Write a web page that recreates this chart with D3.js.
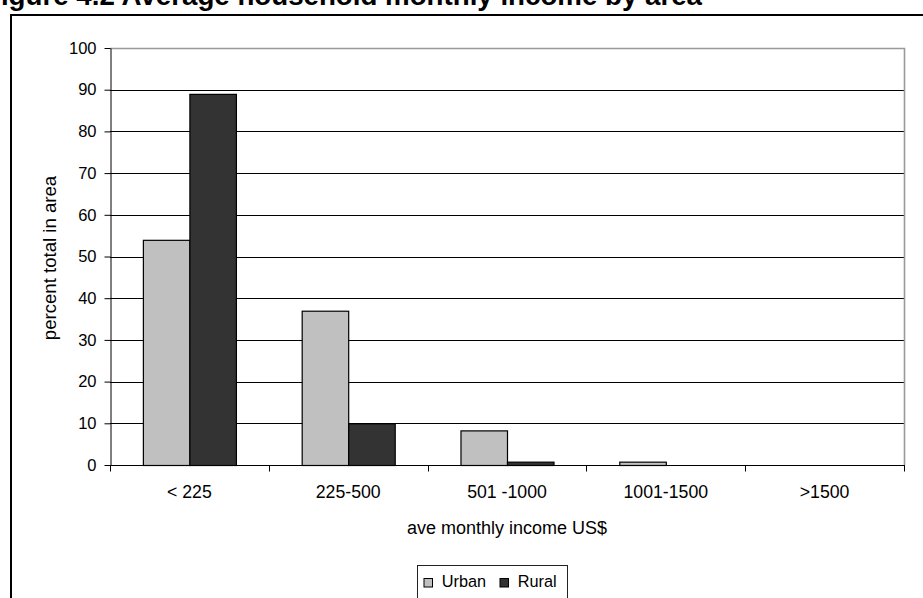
<!DOCTYPE html>
<html>
<head>
<meta charset="utf-8">
<script src="https://cdn.jsdelivr.net/npm/d3@7"></script>
<style>
  html, body { margin: 0; padding: 0; background: #fff; overflow: hidden; }
  svg { display: block; font-family: "Liberation Sans", Arial, sans-serif; }
</style>
</head>
<body>
<svg id="chart" width="923" height="598"></svg>
<script>
// Income bands and the share of households in each, by area
const categories = ["< 225", "225-500", "501 -1000", "1001-1500", ">1500"];
const seriesNames = ["Urban", "Rural"];
const urbanValues = [54, 37, 8.3, 0.8, 0];
const ruralValues = [89, 10, 0.8, 0, 0];
const yTicks = [0, 10, 20, 30, 40, 50, 60, 70, 80, 90, 100];
const colors = { Urban: "#c0c0c0", Rural: "#333333" };

const rows = categories.map((c, i) => ({ cat: c, Urban: urbanValues[i], Rural: ruralValues[i] }));

const svg = d3.select("#chart");
const W = 923, H = 598;
const FONT = "'Liberation Sans', Arial, sans-serif";

// Title, running off the top of the page
svg.append("text")
  .attr("x", -16).attr("y", 5)
  .attr("font-size", 27.7).attr("font-weight", "bold")
  .attr("fill", "#000")
  .text("Figure 4.2 Average household monthly income by area");

// Outer chart frame
svg.append("rect")
  .attr("x", 11).attr("y", 15)
  .attr("width", W + 20).attr("height", H)
  .attr("fill", "none").attr("stroke", "#000").attr("stroke-width", 2);

const plot = { left: 110, right: 904, top: 48, bottom: 465 };

const x = d3.scaleBand().domain(categories).range([plot.left, plot.right]);
const xInner = d3.scaleBand().domain(seriesNames).range([0, x.bandwidth()]).paddingInner(0).paddingOuter(0.707);
const y = d3.scaleLinear().domain([0, 100]).range([plot.bottom, plot.top]);

// Gridlines
svg.append("g").selectAll("line").data(yTicks.filter(t => t > 0 && t < 100)).join("line")
  .attr("x1", plot.left).attr("x2", plot.right)
  .attr("y1", d => Math.round(y(d)) + 0.5).attr("y2", d => Math.round(y(d)) + 0.5)
  .attr("stroke", "#000").attr("stroke-width", 1);

// Plot area border (top and right)
svg.append("path")
  .attr("d", `M${plot.left},${plot.top + 0.5}H${plot.right + 0.5}V${plot.bottom}`)
  .attr("fill", "none").attr("stroke", "#999").attr("stroke-width", 1.6);

// Bars
const groups = svg.append("g").selectAll("g").data(rows).join("g")
  .attr("transform", d => `translate(${x(d.cat)},0)`);
groups.selectAll("rect").data(d => seriesNames.map(s => ({ s, v: d[s] }))).join("rect")
  .filter(d => d.v > 0)
  .attr("x", d => xInner(d.s) + 0.5)
  .attr("y", d => y(d.v) + 0.5)
  .attr("width", xInner.bandwidth())
  .attr("height", d => y(0) - y(d.v))
  .attr("fill", d => colors[d.s])
  .attr("stroke", "#000").attr("stroke-width", 1.2);

// Y axis
const yAxis = svg.append("g")
  .attr("transform", `translate(${plot.left + 0.5},0)`)
  .call(d3.axisLeft(y).tickValues(yTicks).tickSize(6).tickSizeOuter(0).tickPadding(8));
yAxis.select(".domain").attr("stroke", "#000");
yAxis.selectAll(".tick line").attr("stroke", "#000");
yAxis.selectAll(".tick text").attr("font-size", 16.5).attr("fill", "#000").attr("font-family", FONT);

// X axis
const xAxis = svg.append("g")
  .attr("transform", `translate(0,${plot.bottom + 0.5})`)
  .call(d3.axisBottom(x).tickSize(0).tickPadding(20));
xAxis.select(".domain").remove();
xAxis.append("line").attr("x1", plot.left).attr("x2", plot.right + 1).attr("stroke", "#000");
xAxis.selectAll(".sep").data(d3.range(categories.length + 1)).join("line")
  .attr("class", "sep")
  .attr("x1", i => Math.round(plot.left + i * x.bandwidth()) + 0.5)
  .attr("x2", i => Math.round(plot.left + i * x.bandwidth()) + 0.5)
  .attr("y1", 0).attr("y2", 6).attr("stroke", "#000");
xAxis.selectAll(".tick text").attr("font-size", 17.7).attr("fill", "#000").attr("font-family", FONT);

// Axis titles
svg.append("text")
  .attr("transform", `translate(56,258) rotate(-90)`)
  .attr("text-anchor", "middle").attr("font-size", 18.6).attr("fill", "#000")
  .text("percent total in area");
svg.append("text")
  .attr("x", (plot.left + plot.right) / 2).attr("y", 534)
  .attr("text-anchor", "middle").attr("font-size", 18).attr("fill", "#000")
  .text("ave monthly income US$");

// Legend
const legend = svg.append("g").attr("transform", "translate(417,565)");
legend.append("rect").attr("x", 0.5).attr("y", 0.5).attr("width", 150).attr("height", 40)
  .attr("fill", "#fff").attr("stroke", "#222").attr("stroke-width", 1);
const items = [{ s: "Urban", dx: 6.5 }, { s: "Rural", dx: 82.5 }];
items.forEach(it => {
  legend.append("rect").attr("x", it.dx + 0.5).attr("y", 13.5).attr("width", 8.5).attr("height", 8.5)
    .attr("fill", colors[it.s]).attr("stroke", "#000");
  legend.append("text").attr("x", it.dx + 18.3).attr("y", 22)
    .attr("font-size", 16.3).attr("fill", "#000").text(it.s);
});
</script>
</body>
</html>
